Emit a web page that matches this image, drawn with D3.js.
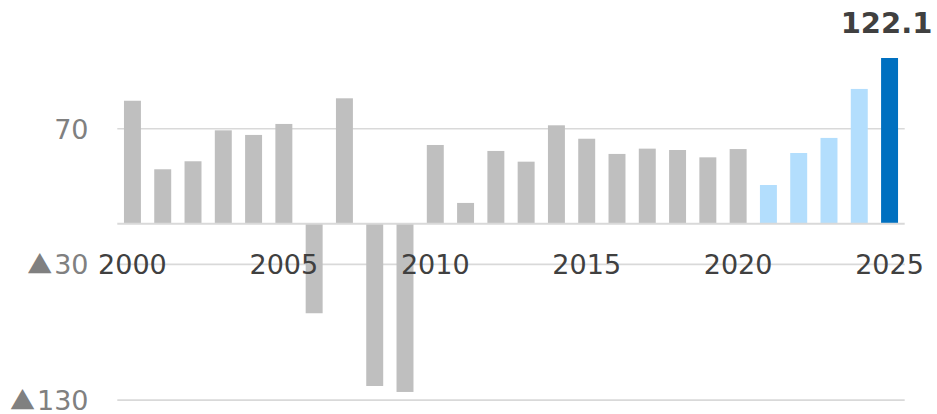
<!DOCTYPE html>
<html>
<head>
<meta charset="utf-8">
<script src="https://cdn.jsdelivr.net/npm/d3@7"></script>
<style>
  html, body { margin: 0; padding: 0; background: #fff; }
  svg { display: block; font-family: "DejaVu Sans", Verdana, sans-serif; }
</style>
</head>
<body>
<svg id="chart" width="937" height="414"></svg>
<script>
// Annual values, 2000–2025 (negative values shown with ▲)
const years = d3.range(2000, 2026);
const values = [
  90.6, 40.1, 46.0, 68.8, 65.4, 73.5, -66.0, 92.4, -119.6, -124.0,
  58.0, 15.3, 53.6, 45.7, 72.5, 62.6, 51.4, 55.3, 54.3, 48.9,
  55.0, 28.5, 52.1, 63.2, 99.3, 122.1
];
const yTicks = [70, -30, -130];
const yTickLabels = ["70", "▲30", "▲130"];
const xTickYears = [2000, 2005, 2010, 2015, 2020, 2025];
const highlightYear = 2025;
const highlightLabel = "122.1";
const lightYears = [2021, 2022, 2023, 2024];

const svg = d3.select("#chart");

const x = d3.scaleBand()
  .domain(years)
  .range([117.3, 904.7])
  .paddingInner(0.44)
  .paddingOuter(0.22);

const y = d3.scaleLinear()
  .domain([-130, 70])
  .range([400.1, 128.7]);

const colorFor = yr => yr === highlightYear ? "#0070C0"
  : lightYears.includes(yr) ? "#B3DEFD" : "#BFBFBF";

// Gridlines
svg.append("g")
  .selectAll("line")
  .data(yTicks)
  .join("line")
  .attr("x1", 117.3).attr("x2", 904.7)
  .attr("y1", d => y(d)).attr("y2", d => y(d))
  .attr("stroke", "#D9D9D9")
  .attr("stroke-width", 1.6);

// Bars
svg.append("g")
  .selectAll("rect")
  .data(years.map((yr, i) => ({ yr, v: values[i] })))
  .join("rect")
  .attr("x", d => x(d.yr))
  .attr("width", x.bandwidth())
  .attr("y", d => y(Math.max(0, d.v)))
  .attr("height", d => Math.abs(y(d.v) - y(0)))
  .attr("fill", d => colorFor(d.yr));

// Zero axis line
svg.append("line")
  .attr("x1", 117.3).attr("x2", 904.7)
  .attr("y1", y(0)).attr("y2", y(0))
  .attr("stroke", "#D9D9D9")
  .attr("stroke-width", 2);

// Y tick labels; the ▲ prefix uses a CJK font for a full-width triangle
const yLabels = svg.append("g")
  .selectAll("text")
  .data(yTicks)
  .join("text")
  .attr("x", 88.5)
  .attr("y", d => y(d) + 9.8)
  .attr("text-anchor", "end")
  .attr("font-size", 27)
  .attr("fill", "#808080");

yLabels.each(function (d, i) {
  const label = yTickLabels[i];
  const t = d3.select(this);
  if (label.startsWith("▲")) {
    t.append("tspan")
      .attr("font-family", "'Noto Sans CJK JP', sans-serif")
      .attr("font-size", 25)
      .text("▲");
    t.append("tspan").attr("dx", 2).text(label.slice(1));
  } else {
    t.text(label);
  }
});

// Year labels along the -30 gridline
svg.append("g")
  .selectAll("text")
  .data(xTickYears)
  .join("text")
  .attr("x", d => x(d) + x.bandwidth() / 2)
  .attr("y", y(-30) + 9.8)
  .attr("text-anchor", "middle")
  .attr("font-size", 27)
  .attr("fill", "#404040")
  .text(d => d);

// Value label above the latest bar
const hv = values[years.indexOf(highlightYear)];
svg.append("text")
  .attr("x", x(highlightYear) + x.bandwidth() / 2 - 3)
  .attr("y", y(hv) - 25)
  .attr("text-anchor", "middle")
  .attr("font-size", 29)
  .attr("font-weight", "bold")
  .attr("fill", "#404040")
  .text(highlightLabel);
</script>
</body>
</html>
